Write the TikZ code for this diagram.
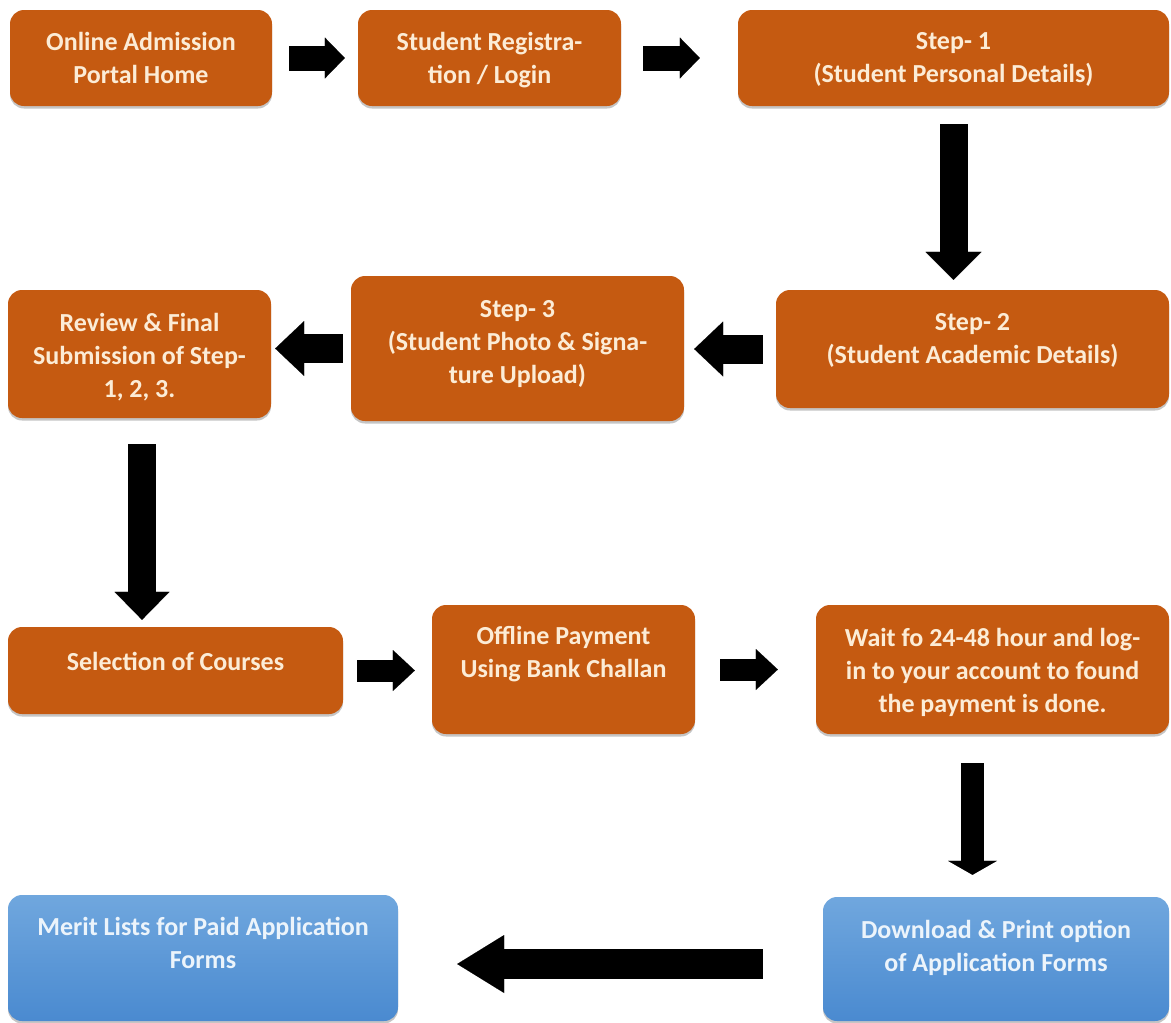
\documentclass[tikz,border=0pt]{standalone}
\usepackage{fontspec}
\setmainfont{Carlito}
\usetikzlibrary{arrows.meta,shadows}
\definecolor{boxorange}{RGB}{197,90,17}
\definecolor{txtcream}{RGB}{252,236,214}
\definecolor{bluetop}{RGB}{112,167,222}
\definecolor{bluebot}{RGB}{74,138,208}
\definecolor{txtblue}{RGB}{236,244,251}
\tikzset{
  boxbase/.style={inner sep=0pt, rounded corners=14pt,
    drop shadow={shadow xshift=0pt, shadow yshift=-2.5pt, opacity=0.45}},
  obox/.style={boxbase, fill=boxorange},
  bbox/.style={boxbase, top color=bluetop, bottom color=bluebot},
  lbl/.style={anchor=north, inner sep=0pt, align=center,
    font=\fontsize{26}{33}\selectfont\bfseries, text=txtcream},
  blbl/.style={lbl, text=txtblue},
  blk/.style n args={3}{draw=black, line width=#1,
    -{Triangle[length=#3, width=#2, line width=0.01pt]}}
}
\begin{document}
\begin{tikzpicture}[x=1pt,y=-1pt]
\useasboundingbox (0,0) rectangle (1171,1023);
\fill[white] (0,0) rectangle (1171,1023);

% boxes
\node[obox, minimum width=262, minimum height=96]  (n1)  at (141,58)      {};
\node[obox, minimum width=263, minimum height=96]  (n2)  at (489.5,58)    {};
\node[obox, minimum width=431, minimum height=96]  (n3)  at (953.5,58)    {};
\node[obox, minimum width=393, minimum height=118] (n4)  at (972.5,349)   {};
\node[obox, minimum width=333, minimum height=145] (n5)  at (517.5,348.5) {};
\node[obox, minimum width=263, minimum height=128] (n6)  at (139.5,354)   {};
\node[obox, minimum width=335, minimum height=87]  (n7)  at (175.5,670.5) {};
\node[obox, minimum width=263, minimum height=129] (n8)  at (563.5,669.5) {};
\node[obox, minimum width=353, minimum height=129] (n9)  at (992.5,669.5) {};
\node[bbox, minimum width=346, minimum height=124] (n10) at (996,959)     {};
\node[bbox, minimum width=390, minimum height=126] (n11) at (203,958)     {};

% labels
\node[lbl]  (t1)  at ([yshift=-22pt]n1.north)  {Online Admission\\Portal Home};
\node[lbl]  (t2)  at ([yshift=-22pt]n2.north)  {Student Registra-\\tion / Login};
\node[lbl]  (t3)  at ([yshift=-22pt]n3.north)  {Step- 1\\(Student Personal Details)};
\node[lbl]  (t4)  at ([yshift=-23pt]n4.north)  {Step- 2\\(Student Academic Details)};
\node[lbl]  (t5)  at ([yshift=-24pt]n5.north)  {Step- 3\\(Student Photo \& Signa-\\ture Upload)};
\node[lbl]  (t6)  at ([yshift=-23pt]n6.north)  {Review \& Final\\Submission of Step-\\1, 2, 3.};
\node[lbl]  (t7)  at ([yshift=-25pt]n7.north)  {Selection of Courses};
\node[lbl]  (t8)  at ([yshift=-21pt]n8.north)  {Offline Payment\\Using Bank Challan};
\node[lbl]  (t9)  at ([yshift=-23pt]n9.north)  {Wait fo 24-48 hour and log-\\in to your account to found\\the payment is done.};
\node[blbl] (t10) at ([yshift=-23pt]n10.north) {Download \& Print option\\of Application Forms};
\node[blbl] (t11) at ([yshift=-22pt]n11.north) {Merit Lists for Paid Application\\Forms};

% helper coordinates
\coordinate (c6)  at ([xshift=2.5pt]n6.south);
\coordinate (c9)  at ([xshift=-20pt]n9.south);
\coordinate (c10) at ([yshift=-5pt]n10.west);

% arrows
\draw[blk={25pt}{41pt}{20pt}, shorten <=17pt, shorten >=13pt] (n1.east) -- (n2.west);
\draw[blk={25pt}{41pt}{20pt}, shorten <=22pt, shorten >=38pt] (n2.east) -- (n3.west);
\draw[blk={28pt}{56pt}{28pt}, shorten <=18pt, shorten >=10pt] (n3.south) -- (n3.south |- n4.north);
\draw[blk={29pt}{55pt}{29pt}, shorten <=13pt, shorten >=10pt] (n4.west) -- (n4.west -| n5.east);
\draw[blk={29pt}{55pt}{29pt}, shorten <=8pt, shorten >=4pt] (n5.west) -- (n5.west -| n6.east);
\draw[blk={28pt}{55pt}{28pt}, shorten <=26pt, shorten >=7pt] (c6) -- (c6 |- n7.north);
\draw[blk={22pt}{41pt}{22pt}, shorten <=14pt, shorten >=17pt] (n7.east) -- (n7.east -| n8.west);
\draw[blk={22pt}{41pt}{22pt}, shorten <=25pt, shorten >=38pt] (n8.east) -- (n8.east -| n9.west);
\draw[blk={23pt}{49pt}{14pt}, shorten <=29pt, shorten >=22pt] (c9) -- (c9 |- n10.north);
\draw[blk={30pt}{58pt}{47pt}, shorten <=60pt, shorten >=59pt] (c10) -- (c10 -| n11.east);
\end{tikzpicture}
\end{document}
